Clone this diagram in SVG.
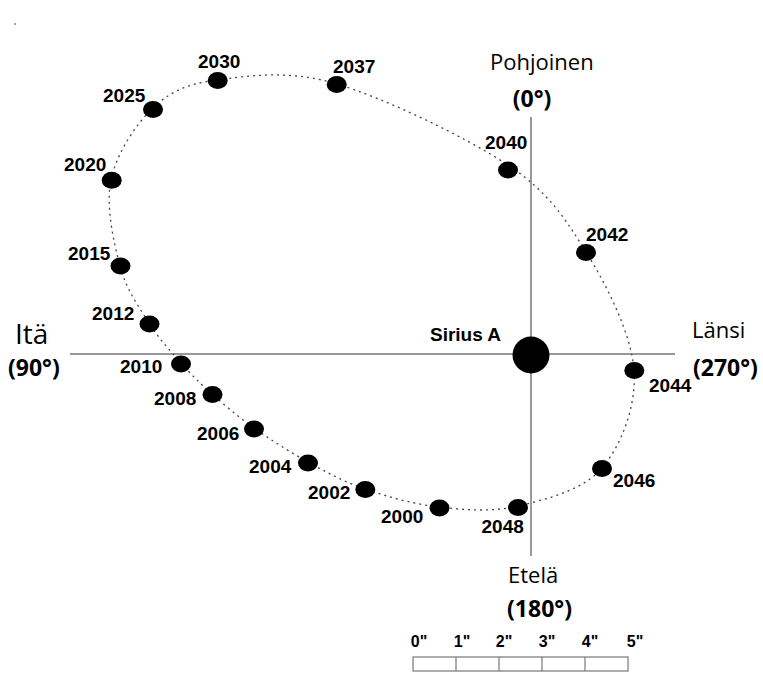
<svg xmlns="http://www.w3.org/2000/svg" width="763" height="691" viewBox="0 0 763 691">
<style>
.yr{font-family:"Liberation Sans",Arial,sans-serif;font-weight:bold;font-size:19px;fill:#000}
.dir{font-family:"Open Sans","Noto Sans",sans-serif;font-size:22px;fill:#000}
.deg{font-family:"Open Sans","Noto Sans",sans-serif;font-weight:bold;font-size:23px;fill:#000}
.sc{font-family:"Liberation Sans",Arial,sans-serif;font-weight:bold;font-size:16px;fill:#000;text-anchor:middle}
.axis{stroke:#777;stroke-width:1.5;fill:none}
.orbit{stroke:#444;stroke-width:1.3;fill:none;stroke-dasharray:2 4}
.dot{fill:#000}
</style>
<rect width="763" height="691" fill="#fff"/>
<circle cx="15" cy="24" r="0.7" fill="#000"/>
<g id="connectors">
<line class="axis" x1="70" y1="354" x2="675" y2="354"/>
<line class="axis" x1="531" y1="117" x2="531" y2="556"/>
<path id="orbit" class="orbit" d="M439,507 C413.5,504.2 386.8,496.5 365,489 C343.2,481.5 326.5,472.2 308,462 C289.5,451.8 270,439.3 254,428 C238,416.7 224.2,404.8 212,394 C199.8,383.2 191.5,374.8 181,363 C170.5,351.2 159.2,339.2 149,323 C138.8,306.8 126.3,289.8 120,266 C113.7,242.2 105.5,206.3 111,180 C116.5,153.7 135.3,124.7 153,108 C170.7,91.3 186.3,84 217,80 C247.7,76 288.5,69.2 337,84 C385.5,98.8 462,135 508,165 C549.5,193 565,218.5 586,252 C607,285.5 631.3,334 634,370 C636.7,406 621.3,445.3 602,468 C582.7,490.7 545.2,499.5 518,506 C490.8,512.5 464.5,509.8 439,507 Z"/>
</g>
<g id="sirius-a">
<circle class="dot" cx="531" cy="355" r="18.5"/>
<text class="yr" x="430" y="341">Sirius A</text>
</g>
<g id="y2000"><ellipse class="dot" cx="439.5" cy="508" rx="10" ry="8.5"/><text class="yr" x="381" y="523">2000</text></g>
<g id="y2002"><ellipse class="dot" cx="365.3" cy="489.5" rx="10" ry="8.5"/><text class="yr" x="308" y="499">2002</text></g>
<g id="y2004"><ellipse class="dot" cx="308" cy="463" rx="10" ry="8.5"/><text class="yr" x="249" y="473">2004</text></g>
<g id="y2006"><ellipse class="dot" cx="254" cy="429" rx="10" ry="8.5"/><text class="yr" x="197" y="440">2006</text></g>
<g id="y2008"><ellipse class="dot" cx="212.5" cy="394.5" rx="10" ry="8.5"/><text class="yr" x="154" y="405">2008</text></g>
<g id="y2010"><ellipse class="dot" cx="181" cy="364" rx="10" ry="8.5"/><text class="yr" x="120" y="373">2010</text></g>
<g id="y2012"><ellipse class="dot" cx="149.5" cy="324" rx="10" ry="8.5"/><text class="yr" x="92" y="320">2012</text></g>
<g id="y2015"><ellipse class="dot" cx="120.5" cy="266" rx="10" ry="8.5"/><text class="yr" x="68" y="260">2015</text></g>
<g id="y2020"><ellipse class="dot" cx="111.7" cy="180.3" rx="10" ry="8.5"/><text class="yr" x="64" y="171">2020</text></g>
<g id="y2025"><ellipse class="dot" cx="153" cy="109.5" rx="10" ry="8.5"/><text class="yr" x="103" y="102">2025</text></g>
<g id="y2030"><ellipse class="dot" cx="217.7" cy="80.5" rx="10" ry="8.5"/><text class="yr" x="198" y="68">2030</text></g>
<g id="y2037"><ellipse class="dot" cx="336.7" cy="84.5" rx="10" ry="8.5"/><text class="yr" x="333" y="73">2037</text></g>
<g id="y2040"><ellipse class="dot" cx="508" cy="170" rx="10" ry="8.5"/><text class="yr" x="485" y="149">2040</text></g>
<g id="y2042"><ellipse class="dot" cx="586" cy="252.5" rx="10" ry="8.5"/><text class="yr" x="586" y="241">2042</text></g>
<g id="y2044"><ellipse class="dot" cx="634.3" cy="370.5" rx="10" ry="8.5"/><text class="yr" x="649" y="392">2044</text></g>
<g id="y2046"><ellipse class="dot" cx="602" cy="468.5" rx="10" ry="8.5"/><text class="yr" x="613" y="487">2046</text></g>
<g id="y2048"><ellipse class="dot" cx="518" cy="507.5" rx="10" ry="8.5"/><text class="yr" x="481.5" y="533">2048</text></g>
<g id="north"><text class="dir" x="490" y="70">Pohjoinen</text><text class="deg" x="532" y="107" text-anchor="middle">(0°)</text></g>
<g id="east"><text class="dir" x="15" y="344" style="font-size:28px">Itä</text><text class="deg" x="8" y="376">(90°)</text></g>
<g id="west"><text class="dir" x="692" y="338">Länsi</text><text class="deg" x="693" y="376">(270°)</text></g>
<g id="south"><text class="dir" x="508" y="583">Etelä</text><text class="deg" x="539.5" y="617" text-anchor="middle">(180°)</text></g>
<g id="scale">
<rect x="413" y="657" width="215" height="14" fill="none" stroke="#777" stroke-width="1.2"/>
<line x1="456" y1="657" x2="456" y2="671" stroke="#777" stroke-width="1.2"/>
<line x1="499" y1="657" x2="499" y2="671" stroke="#777" stroke-width="1.2"/>
<line x1="542" y1="657" x2="542" y2="671" stroke="#777" stroke-width="1.2"/>
<line x1="585" y1="657" x2="585" y2="671" stroke="#777" stroke-width="1.2"/>
<text class="sc" x="419" y="647">0"</text>
<text class="sc" x="462" y="647">1"</text>
<text class="sc" x="504" y="647">2"</text>
<text class="sc" x="547" y="647">3"</text>
<text class="sc" x="590" y="647">4"</text>
<text class="sc" x="635" y="647">5"</text>
</g>
</svg>
